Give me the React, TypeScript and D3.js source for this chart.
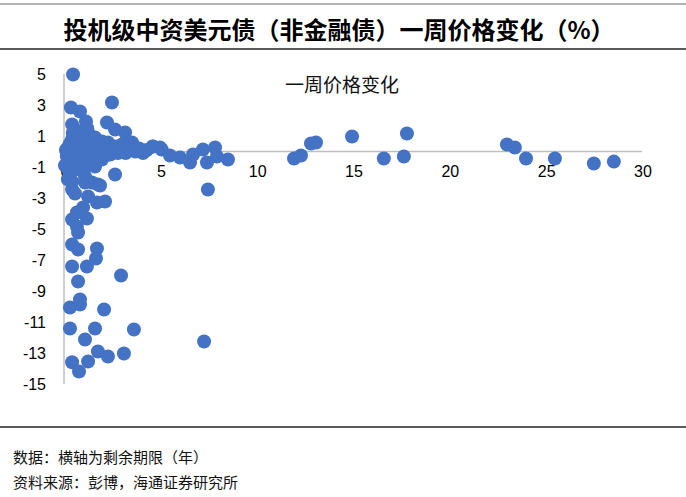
import React, { useRef, useEffect } from 'react';
import * as d3 from 'd3';

// remaining maturity (years) and one-week price change (%)
const maturity = [
  0.47, 0.36, 0.83, 2.49, 1.14, 0.42, 2.23, 2.65, 3.17, 3.53,
  4.6, 5.07, 5.5, 6.02, 6.54, 6.7, 7.21, 7.42, 7.84, 7.94, 8.51, 7.47,
  4.62, 4.98, 4.3, 3.9, 4.1, 3.7,
  11.94, 12.3, 12.82, 13.08, 14.95, 16.6, 17.64, 17.8, 22.99, 23.4, 23.98, 25.48, 27.5, 28.54,
  0.21, 0.42, 0.73, 1.25, 1.61, 1.97, 2.28, 2.65, 3.01, 3.32,
  0.57, 0.93, 1.25, 1.61, 1.97, 2.28, 2.65, 0.57, 1.09, 1.45, 1.76, 0.42,
  0.1, 0.15, 0.2, 0.3, 0.5, 0.6, 0.8, 0.9, 1.0, 1.1, 1.3, 1.4, 1.5, 1.7, 1.8, 2.0,
  2.2, 2.4, 2.6, 2.8, 3.0, 3.2, 3.5, 0.05, 0.3, 0.45, 1.2, 0.8, 1.0, 0.2, 0.7, 1.3,
  0.42, 1.09, 1.87, 0.57, 1.25, 1.71, 2.13, 0.99, 0.67, 0.42, 1.19, 0.67, 0.73,
  0.42, 0.73, 1.71, 1.66, 0.42, 1.19, 0.73, 2.96, 0.83, 0.83, 0.31, 2.08,
  0.31, 1.61, 3.63, 1.09, 7.27, 1.76, 2.28, 3.11, 0.42, 1.25, 0.78,
];
const priceChange = [
  4.97, 2.84, 2.58, 3.16, 1.94, 1.74, 1.87, 1.42, 1.23, 0.58,
  0.32, 0.13, -0.26, -0.39, -0.71, -0.19, 0.13, -0.71, 0.26, -0.32, -0.52, -2.45,
  0.32, 0.26, 0.1, 0.2, -0.1, 0.0,
  -0.45, -0.26, 0.52, 0.58, 0.97, -0.45, -0.32, 1.16, 0.45, 0.26, -0.45, -0.45, -0.77, -0.65,
  0.26, 0.77, 0.97, 1.23, 0.9, 0.65, 0.58, 0.32, 0.45, 0.32,
  -0.32, -0.65, -0.84, -0.97, -0.52, -0.19, -1.48, -1.16, -1.61, -2.0, -2.13, -2.45,
  0.1, -0.3, -0.6, 0.5, 0.0, 0.4, -0.2, 0.3, 0.6, -0.1, 0.2, -0.4, 0.5, 0.1, -0.3, 0.2,
  0.0, -0.2, 0.1, -0.1, 0.0, -0.1, 0.1, -0.9, -1.3, 1.2, 1.5, 1.3, -1.3, -1.8, 0.1, -0.5,
  -1.94, -2.0, -2.19, -2.71, -2.9, -3.29, -3.23, -3.61, -3.94, -4.39, -4.32, -4.84, -5.23,
  -6.0, -6.32, -6.26, -6.9, -7.42, -7.42, -8.39, -8.0, -9.55, -9.87, -10.06, -10.19,
  -11.42, -11.42, -11.48, -12.13, -12.26, -12.9, -13.23, -13.03, -13.6, -13.55, -14.19,
];
const xTicks = [0, 5, 10, 15, 20, 25, 30];
const yTicks = [5, 3, 1, -1, -3, -5, -7, -9, -11, -13, -15];

const title = '投机级中资美元债（非金融债）一周价格变化（%）';
const chartTitle = '一周价格变化';
const notes = ['数据：横轴为剩余期限（年）', '资料来源：彭博，海通证券研究所'];

const W = 686;
const H = 497;
const cjk = '"Noto Sans CJK SC", sans-serif';
const latin = '"Liberation Sans", Arial, sans-serif';

const App = () => {
  const svgRef = useRef(null);

  useEffect(() => {
    const svg = d3.select(svgRef.current);
    svg.selectAll('*').remove();

    const x = d3.scaleLinear().domain([0, 30]).range([64, 642]);
    const y = d3.scaleLinear().domain([-15, 5]).range([384, 74]);

    // frame lines + titles
    svg.append('line').attr('x1', 0).attr('x2', W).attr('y1', 4).attr('y2', 4)
      .attr('stroke', '#999').attr('stroke-width', 1.5);
    svg.append('text').attr('x', 339).attr('y', 28).attr('text-anchor', 'middle')
      .attr('dominant-baseline', 'central').attr('font-family', cjk).attr('font-weight', 'bold')
      .attr('font-size', 24).attr('fill', '#000').text(title);
    svg.append('line').attr('x1', 0).attr('x2', W).attr('y1', 49).attr('y2', 49)
      .attr('stroke', '#222').attr('stroke-width', 1.5);

    svg.append('text').attr('x', 342).attr('y', 83).attr('text-anchor', 'middle')
      .attr('dominant-baseline', 'central').attr('font-family', cjk)
      .attr('font-size', 19).attr('fill', '#111').text(chartTitle);

    // axes
    svg.append('line').attr('x1', x(0)).attr('x2', x(0)).attr('y1', y(5)).attr('y2', y(-15))
      .attr('stroke', '#bfbfbf').attr('stroke-width', 1.5);
    svg.append('line').attr('x1', x(0)).attr('x2', x(30)).attr('y1', y(0)).attr('y2', y(0))
      .attr('stroke', '#bfbfbf').attr('stroke-width', 1.5);

    svg.append('g').selectAll('text').data(yTicks).join('text')
      .attr('x', 46).attr('y', (d) => y(d)).attr('text-anchor', 'end')
      .attr('dominant-baseline', 'central').attr('font-family', latin)
      .attr('font-size', 16).attr('fill', '#000').text((d) => d);

    svg.append('g').selectAll('text').data(xTicks).join('text')
      .attr('x', (d) => x(d) + 1).attr('y', y(0) + 20).attr('text-anchor', 'middle')
      .attr('dominant-baseline', 'central').attr('font-family', latin)
      .attr('font-size', 16).attr('fill', '#000').text((d) => d);

    // points
    const pts = maturity.map((m, i) => [m, priceChange[i]]);
    svg.append('g').selectAll('circle').data(pts).join('circle')
      .attr('cx', (d) => x(d[0])).attr('cy', (d) => y(d[1])).attr('r', 7)
      .attr('fill', '#4472C4');

    svg.append('line').attr('x1', 0).attr('x2', W).attr('y1', 427).attr('y2', 427)
      .attr('stroke', '#222').attr('stroke-width', 1.5);

    svg.append('g').selectAll('text').data(notes).join('text')
      .attr('x', 13).attr('y', (d, i) => 456 + i * 25).attr('dominant-baseline', 'central')
      .attr('font-family', cjk).attr('font-size', 15).attr('fill', '#111').text((d) => d);
  }, []);

  return (
    <svg ref={svgRef} width={W} height={H}
      style={{ position: 'absolute', left: 0, top: 0, background: '#fff' }} />
  );
};

export default App;
